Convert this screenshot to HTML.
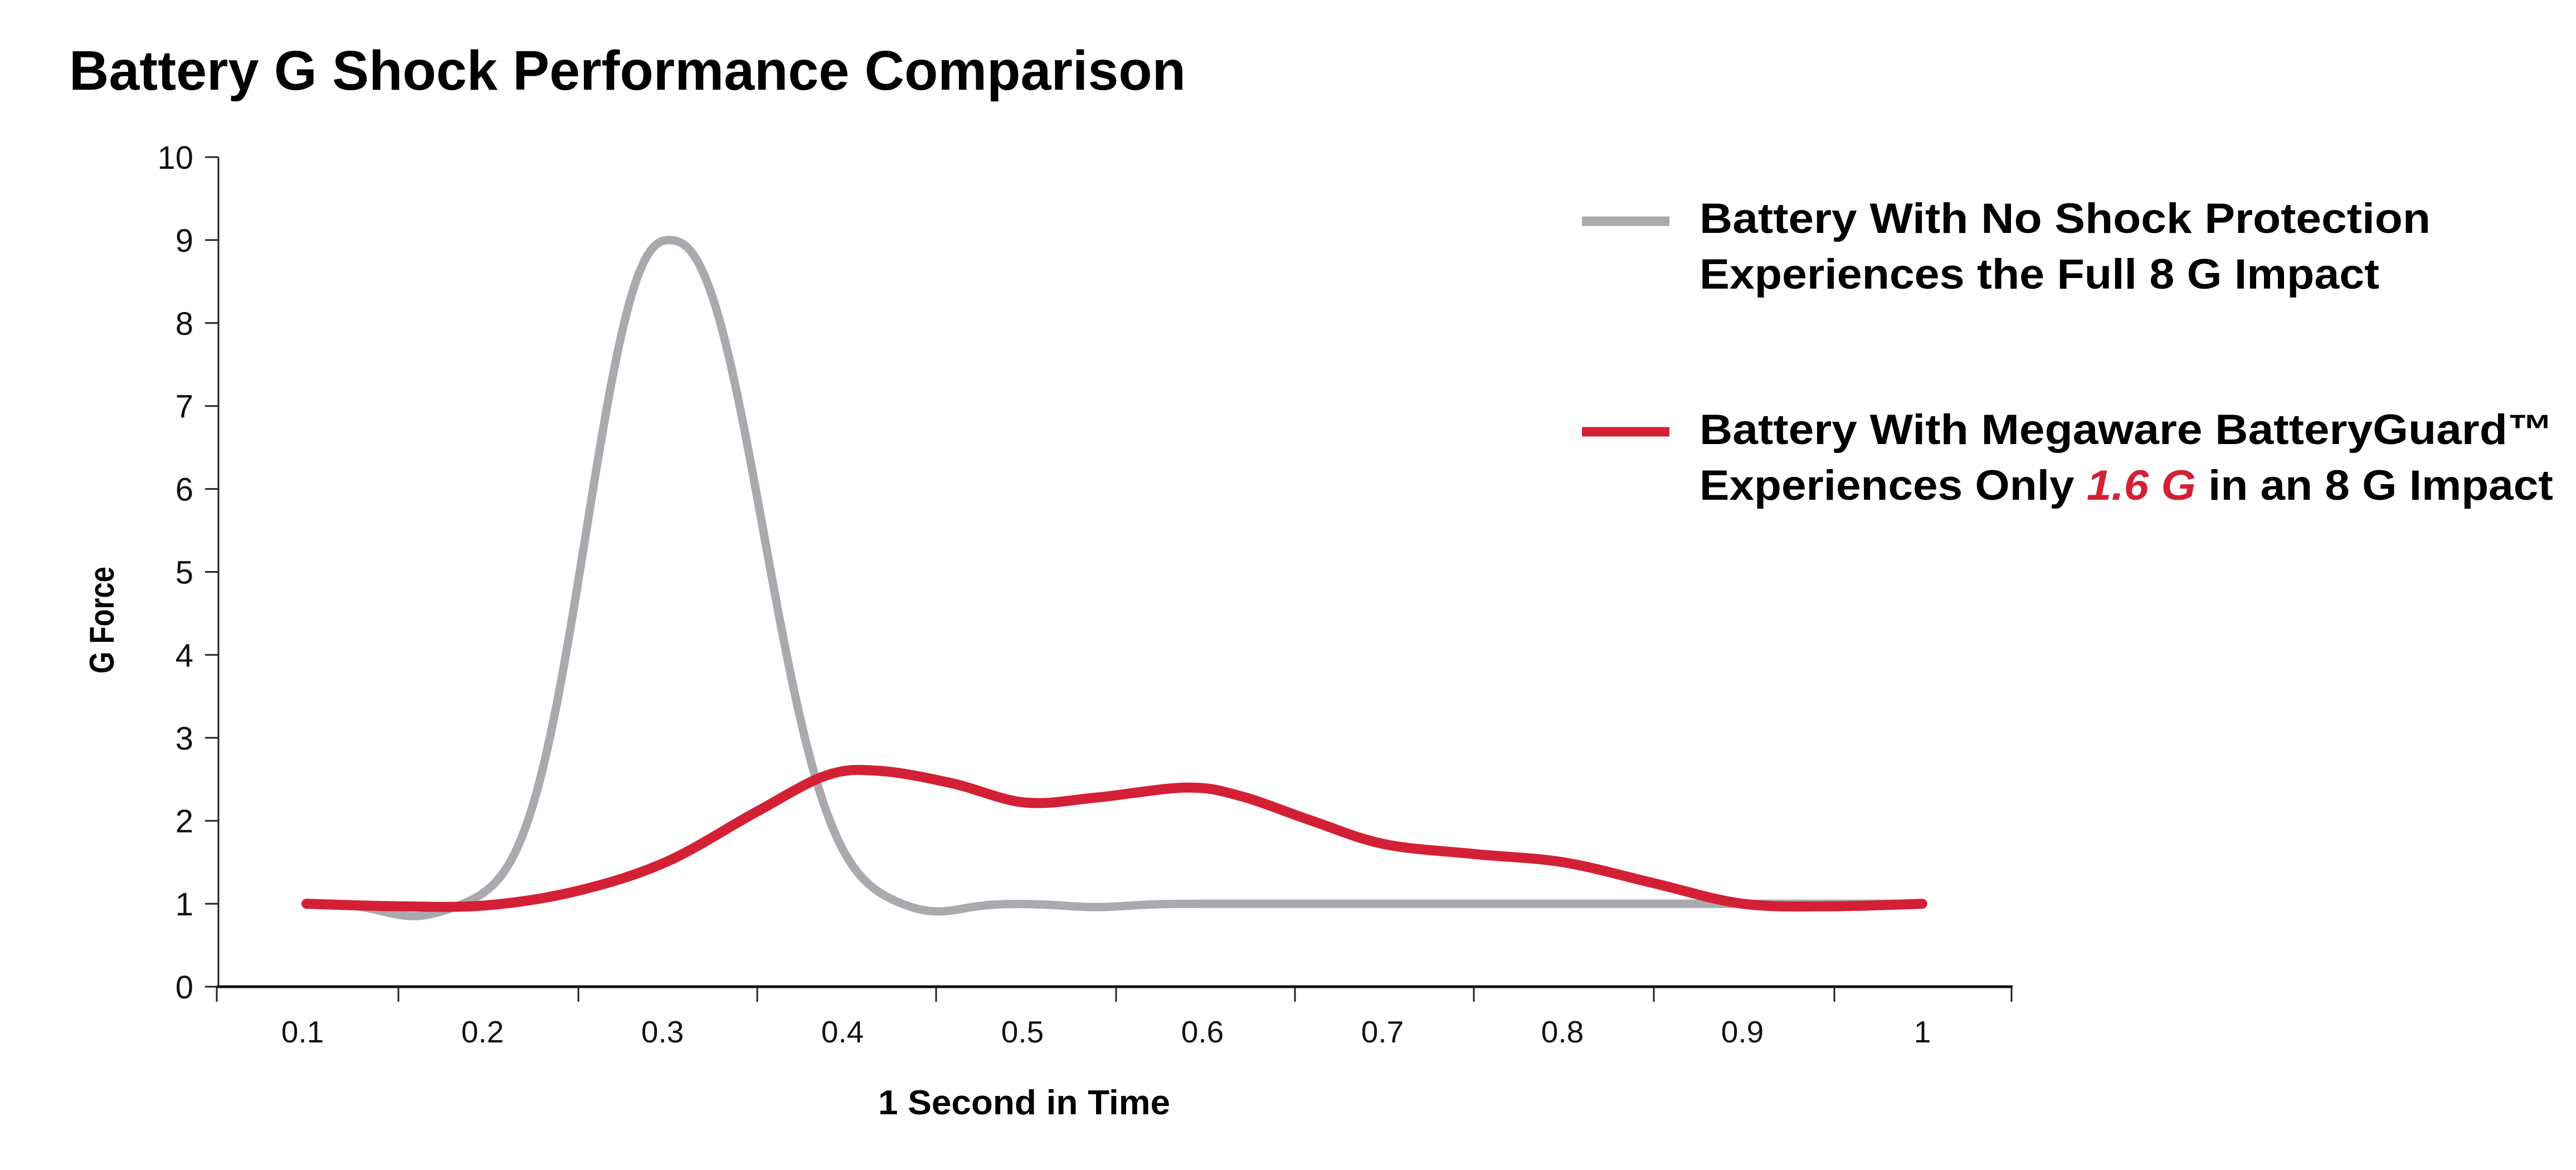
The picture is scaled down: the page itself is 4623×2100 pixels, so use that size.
<!DOCTYPE html>
<html><head><meta charset="utf-8"><style>
html,body{margin:0;padding:0;background:#fff;}
svg{display:block;}
text{font-family:"Liberation Sans",sans-serif;}
</style></head><body>
<svg id="s" width="4623" height="2100" viewBox="0 0 4623 2100" xmlns="http://www.w3.org/2000/svg">
<text x="124" y="161" font-size="100" font-weight="bold" textLength="2004" lengthAdjust="spacingAndGlyphs">Battery G Shock Performance Comparison</text>
<g id="yax" font-size="58" text-anchor="end" fill="#111"></g>
<line x1="392" y1="282" x2="392" y2="1771" stroke="#222" stroke-width="3"/>
<line x1="389" y1="1771" x2="3612" y2="1771" stroke="#111" stroke-width="5"/>
<g id="xax" font-size="55" text-anchor="middle" fill="#111"></g>
<text transform="translate(204,1113) rotate(-90)" font-size="62" font-weight="bold" text-anchor="middle" textLength="192" lengthAdjust="spacingAndGlyphs">G Force</text>
<text x="1838" y="2000" font-size="62" font-weight="bold" text-anchor="middle" textLength="524" lengthAdjust="spacingAndGlyphs">1 Second in Time</text>
<path id="gray" fill="none" stroke="#a9a9ae" stroke-width="15" stroke-linejoin="round" stroke-linecap="round"/>
<path id="red" fill="none" stroke="#d42035" stroke-width="18" stroke-linejoin="round" stroke-linecap="round"/>
<line x1="2839" y1="397" x2="2996" y2="397" stroke="#a9a9ae" stroke-width="17"/>
<text x="3050" y="418" font-size="76" font-weight="bold" textLength="1312" lengthAdjust="spacingAndGlyphs">Battery With No Shock Protection</text>
<text x="3050" y="518" font-size="76" font-weight="bold" textLength="1220" lengthAdjust="spacingAndGlyphs">Experiences the Full 8 G Impact</text>
<line x1="2839" y1="775" x2="2996" y2="775" stroke="#d42035" stroke-width="17"/>
<text x="3050" y="797" font-size="76" font-weight="bold" textLength="1532" lengthAdjust="spacingAndGlyphs">Battery With Megaware BatteryGuard™</text>
<text x="3050" y="897" font-size="76" font-weight="bold" textLength="1532" lengthAdjust="spacingAndGlyphs">Experiences Only <tspan fill="#d42035" font-style="italic">1.6 G</tspan> in an 8 G Impact</text>
</svg>
<script>
var NS="http://www.w3.org/2000/svg";
function Y(v){return 1771-148.9*v;}
function X(t){return 550+3222*(t-0.1);}
var ya=document.getElementById('yax');
for(var v=0;v<=10;v++){
 var t=document.createElementNS(NS,'text');t.setAttribute('x',347);t.setAttribute('y',Y(v)+21);t.textContent=v;ya.appendChild(t);
 var l=document.createElementNS(NS,'line');l.setAttribute('x1',368);l.setAttribute('x2',392);l.setAttribute('y1',Y(v));l.setAttribute('y2',Y(v));l.setAttribute('stroke','#222');l.setAttribute('stroke-width',3);ya.appendChild(l);
}
var xa=document.getElementById('xax');
var ticks=[389,715,1038,1359,1680,2003,2324,2645,2968,3292,3610];
ticks.forEach(function(x){var l=document.createElementNS(NS,'line');l.setAttribute('x1',x);l.setAttribute('x2',x);l.setAttribute('y1',1771);l.setAttribute('y2',1798);l.setAttribute('stroke','#222');l.setAttribute('stroke-width',3);xa.appendChild(l);});
var labs=['0.1','0.2','0.3','0.4','0.5','0.6','0.7','0.8','0.9','1'];
labs.forEach(function(s,i){var t=document.createElementNS(NS,'text');t.setAttribute('x',543+323*i);t.setAttribute('y',1871);t.textContent=s;xa.appendChild(t);});
function path(pts){
 var p=pts.map(function(a){return [X(a[0]),Y(a[1])];});
 var d='M'+p[0][0]+','+p[0][1];
 for(var i=0;i<p.length-1;i++){
  var p0=p[i>0?i-1:i],p1=p[i],p2=p[i+1],p3=p[i+2<p.length?i+2:i+1];
  var c1=[p1[0]+(p2[0]-p0[0])/6,p1[1]+(p2[1]-p0[1])/6];
  var c2=[p2[0]-(p3[0]-p1[0])/6,p2[1]-(p3[1]-p1[1])/6];
  d+=' C'+c1+' '+c2+' '+p2;
 }
 return d;
}
function g(t){
 var d=t-0.302, s=d<0?0.058:0.066;
 var v=1+8*Math.exp(-Math.pow(Math.abs(d/s),2.4));
 v-=0.15*Math.exp(-Math.pow((t-0.16)/0.025,2));
 v-=0.1*Math.exp(-Math.pow((t-0.45)/0.022,2));
 v-=0.04*Math.exp(-Math.pow((t-0.54)/0.025,2));
 return v;
}
var d='';
for(var i=0;i<=450;i++){var t=0.1+0.9*i/450;d+=(i?'L':'M')+X(t).toFixed(1)+','+Y(g(t)).toFixed(1);}
document.getElementById('gray').setAttribute('d',d);
document.getElementById('red').setAttribute('d',path([[0.1,1],[0.15,0.97],[0.2,0.98],[0.25,1.15],[0.3,1.5],[0.35,2.1],[0.39,2.55],[0.42,2.6],[0.46,2.45],[0.5,2.22],[0.54,2.28],[0.59,2.4],[0.62,2.3],[0.66,2.0],[0.7,1.72],[0.75,1.6],[0.8,1.5],[0.85,1.25],[0.9,1.0],[0.95,0.97],[1.0,1.0]]));
</script>
</body></html>
